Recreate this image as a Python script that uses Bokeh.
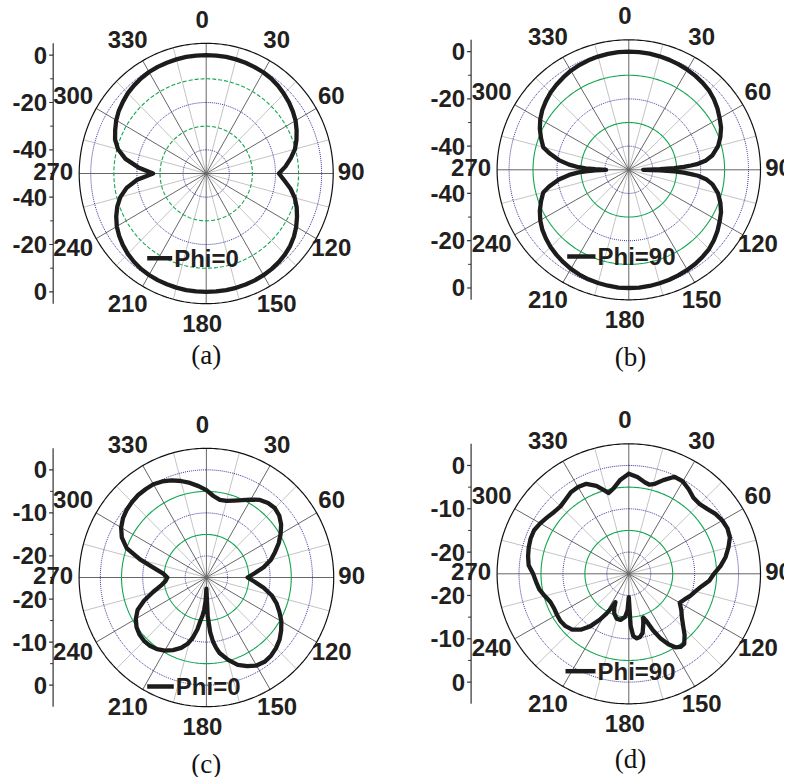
import math
from bokeh.plotting import figure
from bokeh.models import Range1d
from bokeh.core.properties import value
from bokeh.embed import file_html
from bokeh.resources import INLINE

# ---------------- data (dB versus angle in degrees) ----------------
a_angles = list(range(0, 360, 5))
a_db = [0, 0, 0, -0.1, -0.2, -0.4, -0.6, -1.0, -1.6, -2.4, -3.2, -4.2,
        -5.3, -6.8, -8.4, -10.2, -12.8, -15.5, -18.5, -16.0, -12.9, -10.3, -8.3, -6.6,
        -5.0, -3.6, -2.5, -1.7, -1.1, -0.7, -0.4, -0.2, -0.1, 0, 0, 0,
        0, 0, 0, -0.1, -0.2, -0.3, -0.5, -0.8, -1.3, -2.0, -2.9, -4.0,
        -5.3, -7.0, -9.0, -11.5, -15.0, -20.0, -27.0, -20.5, -14.5, -10.5, -8.0, -6.5,
        -5.0, -3.8, -2.9, -2.0, -1.4, -0.9, -0.5, -0.3, -0.2, -0.1, 0, 0]

b_angles = [0, 5, 10, 15, 20, 25, 30, 35, 40, 45, 50, 55, 60, 65, 70, 75, 80, 83, 85, 86, 87, 88, 89, 90,
            91, 92, 93, 94, 95, 97, 100, 105, 110, 115, 120, 125, 130, 135, 140, 145, 150, 155, 160, 165, 170, 175,
            180, 185, 190, 195, 200, 205, 210, 215, 220, 225, 230, 235, 240, 245, 250, 255, 258, 262, 265, 267,
            268, 269, 270, 271, 272, 273, 275, 278, 282, 285, 290, 295, 300, 305, 310, 315, 320, 325, 330, 335,
            340, 345, 350, 355]
b_db = [0, 0, -0.1, -0.3, -0.5, -0.8, -1.1, -1.5, -2.0, -2.6, -3.6, -4.8, -6.2, -7.5, -9.3, -11.4, -14.5, -17.5, -21.0, -24.0, -27.0, -31.0, -37.0, -44.0,
        -37.0, -31.0, -27.0, -24.0, -21.0, -17.5, -14.5, -11.4, -9.3, -7.5, -6.2, -4.8, -3.6, -2.6, -2.0, -1.5, -1.1, -0.8, -0.5, -0.3, -0.1, 0,
        0, 0, -0.2, -0.4, -0.7, -1.1, -1.6, -2.3, -3.0, -3.8, -4.8, -5.9, -7.3, -9.0, -11.0, -13.0, -16.0, -20.5, -25.0, -29.0,
        -32.0, -36.0, -40.5, -36.0, -32.0, -29.0, -25.0, -20.5, -16.0, -13.0, -11.0, -9.0, -7.3, -5.9, -4.8, -3.8, -3.0, -2.3, -1.6, -1.1,
        -0.7, -0.4, -0.2, 0]

c_angles = [0, 5, 10, 15, 20, 25, 30, 35, 40, 45, 50, 55, 60, 65, 70, 75, 80, 85, 90, 95, 100, 105, 110, 115,
            120, 125, 130, 135, 140, 145, 150, 155, 160, 165, 170, 172, 174, 176, 178, 180, 182, 184, 186, 188, 190, 193,
            196, 200, 205, 210, 215, 220, 225, 230, 235, 240, 245, 250, 255, 260, 265, 270, 275, 280, 285, 290,
            295, 300, 305, 310, 315, 320, 325, 330, 335, 340, 345, 350, 355]
c_db = [-4.7, -6.0, -6.7, -6.6, -6.0, -5.2, -4.1, -3.0, -2.4, -2.2, -2.6, -3.5, -4.8, -6.2, -7.8, -9.3, -11.3, -13.6, -15.3, -13.6, -11.3, -9.1, -7.4, -6.0,
        -4.6, -3.5, -2.5, -1.8, -1.3, -1.1, -1.4, -2.3, -3.4, -5.2, -7.2, -8.5, -10.0, -12.3, -16.0, -22.4, -19.5, -17.5, -16.0, -14.8, -12.8, -10.6,
        -9.0, -7.6, -6.4, -5.4, -4.7, -4.3, -4.2, -4.4, -4.9, -5.8, -7.1, -9.4, -12.0, -14.1, -15.3, -15.8, -14.8, -12.5, -8.8, -5.0,
        -3.0, -1.8, -1.0, -0.5, -0.2, 0.0, 0.0, 0.0, -0.4, -1.0, -1.8, -2.7, -3.7]

d_angles = [0, 5, 10, 13, 16, 20, 25, 30, 35, 40, 45, 50, 55, 60, 65, 70, 75, 80, 85, 90, 95, 100, 105, 110,
            115, 120, 125, 130, 135, 138, 142, 145, 148, 151, 154, 157, 160, 162, 164, 167, 170, 173, 176, 178, 180, 182,
            185, 190, 195, 200, 203, 205, 207, 209, 212, 216, 220, 225, 230, 235, 240, 245, 250, 255, 260, 265,
            270, 275, 280, 285, 290, 295, 300, 305, 310, 315, 320, 325, 330, 335, 340, 343, 346, 350, 355]
d_db = [-1.9, -2.6, -3.6, -3.9, -3.4, -2.0, -0.3, -0.4, -1.2, -2.1, -2.2, -1.7, -0.9, -0.4, -0.2, -0.5, -1.5, -2.6, -4.0, -5.6, -6.6, -8.2, -9.3, -10.1,
        -11.0, -11.6, -10.4, -9.2, -7.4, -6.0, -4.5, -4.4, -5.0, -6.4, -8.3, -10.8, -13.5, -14.4, -13.0, -11.0, -10.2, -10.0, -10.6, -13.0, -19.6, -16.5,
        -15.0, -14.2, -14.3, -15.3, -16.5, -17.8, -16.0, -14.5, -12.5, -10.0, -8.2, -6.8, -6.2, -6.0, -6.1, -6.2, -6.0, -5.2, -4.3, -3.8,
        -3.2, -2.1, -1.7, -1.4, -1.2, -1.2, -1.7, -2.3, -2.8, -3.0, -2.6, -2.0, -1.9, -2.1, -3.4, -4.6, -5.8, -5.0, -3.2]

angle_labels = ["0", "30", "60", "90", "120", "150", "180", "210", "240", "270", "300", "330"]
angle_label_values = [0, 30, 60, 90, 120, 150, 180, 210, 240, 270, 300, 330]
radial_ticks_ab = [0, -20, -40]
radial_minor_ab = [-10, -30, -50]
radial_ticks_cd = [0, -10, -20]
radial_minor_cd = [-5, -15, -25]
legend_labels = ["Phi=0", "Phi=90", "Phi=0", "Phi=90"]
panel_tags = ["(a)", "(b)", "(c)", "(d)"]

# ---------------- layout / style ----------------
panels = [
    dict(ang=a_angles, db=a_db, cx=205.7, cy=173.0, rx=127.0, ry=130.2, lo=-50, hi=5,
         blue=[0, -20, -40], green=[-10, -30], gdash="4 2",
         major=radial_ticks_ab, minor=radial_minor_ab,
         leg=(146.7, 171.7, 257.7), tag=(205.7, 354.0)),
    dict(ang=b_angles, db=b_db, cx=628.3, cy=169.3, rx=131.7, ry=130.0, lo=-50, hi=5,
         blue=[0, -20, -40], green=[-10, -30], gdash="solid",
         major=radial_ticks_ab, minor=radial_minor_ab,
         leg=(566.7, 595.0, 256.0), tag=(630.0, 356.5)),
    dict(ang=c_angles, db=c_db, cx=205.9, cy=577.0, rx=127.3, ry=129.2, lo=-25, hi=5,
         blue=[0, -10, -20], green=[-5, -15], gdash="solid",
         major=radial_ticks_cd, minor=radial_minor_cd,
         leg=(146.7, 173.3, 686.0), tag=(205.7, 763.0)),
    dict(ang=d_angles, db=d_db, cx=628.3, cy=573.3, rx=131.7, ry=130.0, lo=-25, hi=5,
         blue=[0, -10, -20], green=[-5, -15], gdash="solid",
         major=radial_ticks_cd, minor=radial_minor_cd,
         leg=(565.0, 595.0, 670.7), tag=(630.0, 758.5)),
]

BLUE = "#34359a"
GREEN = "#12a650"
DARK_SPOKE = "#666666"
LIGHT_SPOKE = "#c4c4c4"
INK = "#231f20"
BOLD = value("Liberation Sans")

W, H = 784, 777
p = figure(width=W, height=H, output_backend="svg", toolbar_location=None,
           x_range=Range1d(0, W), y_range=Range1d(H, 0),
           x_axis_location=None, y_axis_location=None, min_border=0)
p.grid.visible = False
p.outline_line_color = None
p.background_fill_color = "white"
p.border_fill_color = "white"


def rnorm(cfg, db):
    return max(db - cfg["lo"], 0.0) / (cfg["hi"] - cfg["lo"])


def ellipse_pts(cfg, rn):
    xs, ys = [], []
    for k in range(0, 361):
        t = math.radians(k)
        xs.append(cfg["cx"] + cfg["rx"] * rn * math.sin(t))
        ys.append(cfg["cy"] - cfg["ry"] * rn * math.cos(t))
    return xs, ys


for i, cfg in enumerate(panels):
    cx, cy, rx, ry = cfg["cx"], cfg["cy"], cfg["rx"], cfg["ry"]
    # spokes every 15 degrees
    dark = [a for a in range(0, 360, 30)]
    light = [a for a in range(15, 360, 30)]
    for group, col in ((light, LIGHT_SPOKE), (dark, DARK_SPOKE)):
        x1 = [cx + rx * math.sin(math.radians(a)) for a in group]
        y1 = [cy - ry * math.cos(math.radians(a)) for a in group]
        p.segment(x0=[cx] * len(group), y0=[cy] * len(group), x1=x1, y1=y1,
                  line_color=col, line_width=1)
    # concentric grid circles
    for lev in cfg["green"]:
        xs, ys = ellipse_pts(cfg, rnorm(cfg, lev))
        p.line(xs, ys, line_color=GREEN, line_width=1.1, line_dash=cfg["gdash"])
    for lev in cfg["blue"]:
        xs, ys = ellipse_pts(cfg, rnorm(cfg, lev))
        p.line(xs, ys, line_color=BLUE, line_width=1.0, line_dash="1 1")
    xs, ys = ellipse_pts(cfg, 1.0)
    p.line(xs, ys, line_color="#111111", line_width=1.2)

    # radial axis on the left
    ax = cx - rx - 26
    p.segment(x0=[ax], y0=[cy - ry], x1=[ax], y1=[cy + ry], line_color="#333333", line_width=1.2)
    maj_y, maj_lab = [], []
    for lev in cfg["major"]:
        r = rnorm(cfg, lev) * ry
        maj_y += [cy - r, cy + r]
        maj_lab += [str(lev), str(lev)]
    min_y = []
    for lev in cfg["minor"]:
        r = rnorm(cfg, lev) * ry
        min_y += [cy - r, cy + r] if r > 0 else [cy]
    p.segment(x0=[ax - 4] * len(maj_y), y0=maj_y, x1=[ax] * len(maj_y), y1=maj_y,
              line_color="#333333", line_width=1.2)
    p.segment(x0=[ax - 3] * len(min_y), y0=min_y, x1=[ax] * len(min_y), y1=min_y,
              line_color="#333333", line_width=1.0)
    p.text(x=[ax - 6] * len(maj_y), y=maj_y, text=maj_lab, text_font=BOLD,
           text_font_style="bold", text_font_size="24px", text_align="right",
           text_baseline="middle", text_color=INK)

    # pattern curve
    px, py = [], []
    for a, d in zip(cfg["ang"] + [cfg["ang"][0] + 360], cfg["db"] + [cfg["db"][0]]):
        rn = rnorm(cfg, d)
        t = math.radians(a)
        px.append(cx + rx * rn * math.sin(t))
        py.append(cy - ry * rn * math.cos(t))
    p.line(px, py, line_color="#1c1c1c", line_width=4.3, line_join="round", line_cap="round")

    # angle labels
    lx = [cx - 4 + (rx + 22) * math.sin(math.radians(a)) for a in angle_label_values]
    ly = [cy - 2 - (ry + 22) * math.cos(math.radians(a)) for a in angle_label_values]
    p.text(x=lx, y=ly, text=angle_labels, text_font=BOLD, text_font_style="bold",
           text_font_size="24px", text_align="center", text_baseline="middle", text_color=INK)

    # legend
    l0, l1, ly0 = cfg["leg"]
    p.segment(x0=[l0], y0=[ly0], x1=[l1], y1=[ly0], line_color="#1c1c1c", line_width=4.5)
    p.text(x=[l1 + 2], y=[ly0], text=[legend_labels[i]], text_font=BOLD, text_font_style="bold",
           text_font_size="24px", text_align="left", text_baseline="middle", text_color=INK)

    # panel tag
    tx, ty = cfg["tag"]
    p.text(x=[tx], y=[ty], text=[panel_tags[i]], text_font=value("Liberation Serif"),
           text_font_size="27px", text_align="center", text_baseline="middle", text_color="#111111")

open("out.html", "w").write(file_html(p, INLINE))
